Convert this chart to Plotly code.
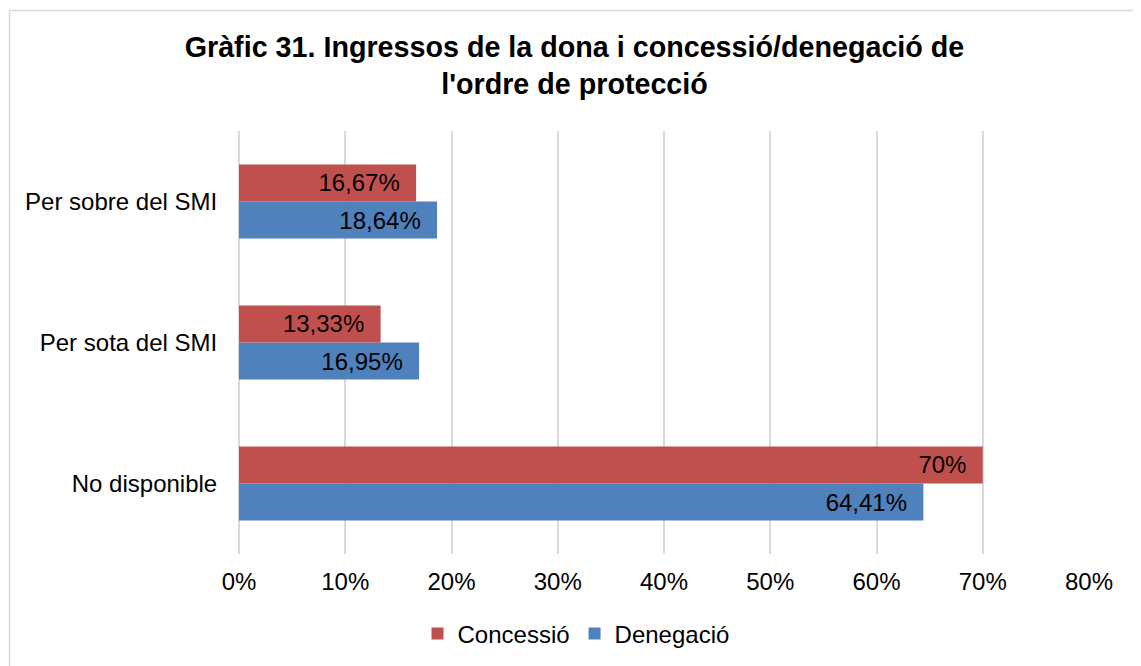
import plotly.graph_objects as go

categories = ["No disponible", "Per sota del SMI", "Per sobre del SMI"]
concessio = [70, 13.33, 16.67]
denegacio = [64.41, 16.95, 18.64]
x_ticks = [0, 10, 20, 30, 40, 50, 60, 70, 80]

RED = "#C0504D"
BLUE = "#4F81BD"
FONT = "Liberation Sans, Arial, sans-serif"
PAD = "\u00a0\u00a0"

def fmt(v):
    return f"{v:g}".replace(".", ",") + "%" + PAD

# page body has an 8px margin, so figure coords = page coords - 8
OFF = 8
W, H = 1141 - OFF, 666 - OFF
L, T = 239 - OFF, 131 - OFF
Rpx, Bpx = 1089 - OFF, 554 - OFF
pw, ph = Rpx - L, Bpx - T

fig = go.Figure()
fig.add_trace(go.Bar(
    name="Denegació", y=categories, x=denegacio, orientation="h",
    marker=dict(color=BLUE, line=dict(width=0)),
    text=[fmt(v) for v in denegacio], textposition="inside",
    insidetextanchor="end", textfont=dict(color="black", size=24, family=FONT),
    legendrank=2, hoverinfo="skip",
))
fig.add_trace(go.Bar(
    name="Concessió", y=categories, x=concessio, orientation="h",
    marker=dict(color=RED, line=dict(width=0)),
    text=[fmt(v) for v in concessio], textposition="inside",
    insidetextanchor="end", textfont=dict(color="black", size=24, family=FONT),
    legendrank=1, hoverinfo="skip",
))

def px_x(p):
    return (p - OFF - L) / pw

def px_y(p):
    return (Bpx - (p - OFF)) / ph

fig.update_layout(
    width=W, height=H,
    margin=dict(l=L, r=W - Rpx, t=T, b=H - Bpx, autoexpand=False),
    paper_bgcolor="white", plot_bgcolor="white",
    barmode="group", bargap=0.475, bargroupgap=0,
    font=dict(family=FONT, size=24, color="black"),
    title=dict(
        text="<b>Gràfic 31. Ingressos de la dona i concessió/denegació de<br>l'ordre de protecció</b>",
        x=(574.5 - OFF) / W, xanchor="center", y=1 - (57 - OFF) / H, yanchor="middle",
        yref="container", xref="container",
        font=dict(size=28.7, color="black", family=FONT),
    ),
    xaxis=dict(
        range=[0, 80], tickvals=x_ticks, ticktext=[f"{t}%" for t in x_ticks],
        showgrid=True, gridcolor="#D9D9D9", gridwidth=1.5,
        zeroline=True, zerolinecolor="#D9D9D9", zerolinewidth=1.5,
        showline=False, ticks="outside", ticklen=6, tickcolor="rgba(0,0,0,0)",
        tickfont=dict(size=24, color="black"), fixedrange=True,
    ),
    yaxis=dict(
        showgrid=False, zeroline=False, showline=False,
        ticks="outside", ticklen=16, tickcolor="rgba(0,0,0,0)",
        tickfont=dict(size=24, color="black"), fixedrange=True,
    ),
    legend=dict(
        orientation="h", x=px_x(576), xanchor="center",
        y=px_y(634), yanchor="middle",
        font=dict(size=24, color="black"), traceorder="normal",
        itemwidth=30,
    ),
    showlegend=True,
    shapes=[dict(
        type="rect", xref="paper", yref="paper",
        x0=px_x(9.5), x1=px_x(1160), y0=px_y(690), y1=px_y(10.5),
        line=dict(color="#D9D9D9", width=1.5), fillcolor="rgba(0,0,0,0)",
        layer="below",
    )],
)

fig.write_html("out.html")
